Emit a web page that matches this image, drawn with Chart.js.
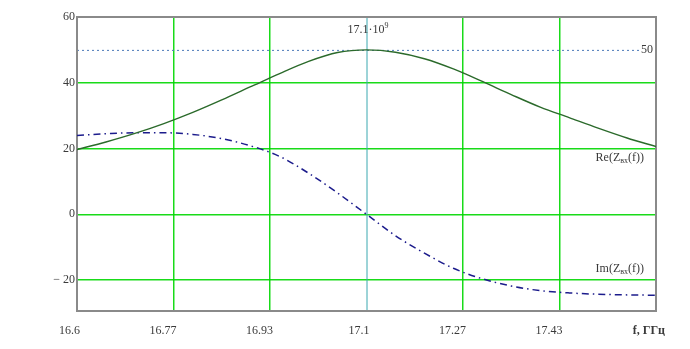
<!DOCTYPE html>
<html>
<head>
<meta charset="utf-8">
<script src="https://cdn.jsdelivr.net/npm/chart.js@4.4.0/dist/chart.umd.min.js"></script>
<style>
  html, body { margin: 0; padding: 0; background: #fff; }
  #wrap { width: 690px; height: 349px; }
</style>
</head>
<body>
<div id="wrap"><canvas id="zChart"></canvas></div>
<script>
// frequency, GHz
const freq = [16.60, 16.65, 16.70, 16.75, 16.80, 16.85, 16.90, 16.95, 17.00, 17.05, 17.10,
              17.15, 17.20, 17.25, 17.30, 17.35, 17.40, 17.45, 17.50, 17.55, 17.60];
// Re(Zвх(f))
const reZ = [19.7, 22.0, 24.6, 27.6, 31.0, 34.8, 38.8, 42.8, 46.5, 49.2, 50.0,
             49.3, 47.3, 44.2, 40.4, 36.4, 32.6, 29.4, 26.2, 23.2, 20.6];
// Im(Zвх(f))
const imZ = [24.0, 24.5, 24.8, 24.8, 24.3, 23.0, 20.8, 17.6, 12.5, 6.5, 0.0,
             -6.5, -11.8, -16.4, -19.6, -21.8, -23.2, -23.9, -24.3, -24.5, -24.6];

const xTicks = [16.6, 16.7667, 16.9333, 17.1, 17.2667, 17.4333];
const xTickLabels = ['16.6', '16.77', '16.93', '17.1', '17.27', '17.43'];
const yTicks = [60, 40, 20, 0, -20];
const yTickLabels = ['60', '40', '20', '0', '\u2212 20'];

const markerF = 17.1;   // vertical marker
const markerZ = 50;     // horizontal marker

const serif = '"Liberation Serif", "Times New Roman", serif';
const gridGreen = 'rgba(0, 215, 0, 0.9)';
const textGray = '#3a3a3a';

function pts(xs, ys) {
  return xs.map((x, i) => ({ x: x, y: ys[i] }));
}

// draws text with a small lowered subscript piece, right aligned at x
function subText(ctx, parts, xRight, y) {
  ctx.save();
  let w = 0;
  parts.forEach(p => {
    ctx.font = (p.sub ? '8px ' : '12px ') + serif;
    w += ctx.measureText(p.t).width;
  });
  let x = xRight - w;
  ctx.textAlign = 'left';
  ctx.textBaseline = 'middle';
  ctx.fillStyle = textGray;
  parts.forEach(p => {
    ctx.font = (p.sub ? '8px ' : '12px ') + serif;
    ctx.fillText(p.t, x, p.sub ? y + 3 : y);
    x += ctx.measureText(p.t).width;
  });
  ctx.restore();
}

const framePlugin = {
  id: 'frame',
  beforeDatasetsDraw(chart) {
    const { ctx, chartArea: a, scales } = chart;
    ctx.save();
    // markers
    const mx = scales.x.getPixelForValue(markerF);
    const my = scales.y.getPixelForValue(markerZ);
    ctx.lineWidth = 1;
    ctx.strokeStyle = '#3aa8b0';
    ctx.beginPath();
    ctx.moveTo(mx + 0.5, a.top);
    ctx.lineTo(mx + 0.5, a.bottom);
    ctx.stroke();
    ctx.strokeStyle = '#4a78b8';
    ctx.setLineDash([2, 3]);
    ctx.beginPath();
    ctx.moveTo(a.left, my + 0.5);
    ctx.lineTo(a.right - 16, my + 0.5);
    ctx.stroke();
    ctx.setLineDash([]);
    // frame
    ctx.strokeStyle = '#8a8a8a';
    ctx.lineWidth = 2;
    ctx.strokeRect(a.left, a.top, a.right - a.left, a.bottom - a.top);
    ctx.restore();
  },
  afterDraw(chart) {
    const { ctx, chartArea: a, scales } = chart;
    const mx = scales.x.getPixelForValue(markerF);
    const my = scales.y.getPixelForValue(markerZ);
    ctx.save();
    ctx.fillStyle = textGray;
    ctx.textBaseline = 'middle';
    // marker labels
    ctx.font = '12px ' + serif;
    ctx.textAlign = 'right';
    ctx.fillText('50', a.right - 3, my);
    const t1 = '17.1\u00b710';
    ctx.textAlign = 'left';
    const tw = ctx.measureText('17.1').width;
    const x0 = mx - tw + 2;
    ctx.fillText(t1, x0, a.top + 13);
    const w1 = ctx.measureText(t1).width;
    ctx.font = '8px ' + serif;
    ctx.fillText('9', x0 + w1, a.top + 9);
    // axis title
    ctx.font = 'bold 12px ' + serif;
    ctx.textAlign = 'right';
    ctx.fillText('f, \u0413\u0413\u0446', 665, 331);
    ctx.restore();
    // trace labels
    subText(ctx, [{ t: 'Re(Z' }, { t: '\u0432\u0445', sub: true }, { t: '(f))' }],
      a.right - 12, scales.y.getPixelForValue(17.2));
    subText(ctx, [{ t: 'Im(Z' }, { t: '\u0432\u0445', sub: true }, { t: '(f))' }],
      a.right - 12, scales.y.getPixelForValue(-16.6));
  }
};

new Chart(document.getElementById('zChart'), {
  type: 'line',
  data: {
    datasets: [
      {
        label: 'Re(Zвх(f))',
        data: pts(freq, reZ),
        borderColor: '#2b6a2b',
        borderWidth: 1.4,
        pointRadius: 0,
        cubicInterpolationMode: 'monotone',
        fill: false
      },
      {
        label: 'Im(Zвх(f))',
        data: pts(freq, imZ),
        borderColor: '#1c1c8c',
        borderWidth: 1.5,
        borderDash: [7, 4, 1.5, 4],
        pointRadius: 0,
        cubicInterpolationMode: 'monotone',
        fill: false
      }
    ]
  },
  options: {
    responsive: true,
    maintainAspectRatio: false,
    animation: false,
    layout: { padding: { top: 17, right: 34, left: 0, bottom: 0 } },
    plugins: {
      legend: { display: false },
      tooltip: { enabled: false }
    },
    scales: {
      x: {
        type: 'linear',
        min: 16.6,
        max: 17.6,
        afterBuildTicks: s => { s.ticks = xTicks.map(v => ({ value: v })); },
        afterFit: s => { s.height = 38; },
        grid: {
          color: c => (c.tick && Math.abs(c.tick.value - markerF) < 1e-6) ? 'rgba(0,0,0,0)' : gridGreen,
          lineWidth: 1.5,
          drawTicks: false
        },
        border: { display: false },
        ticks: {
          align: 'end',
          labelOffset: 3,
          padding: 13,
          maxRotation: 0,
          autoSkip: false,
          color: textGray,
          font: { family: serif, size: 12 },
          callback: (v, i) => xTickLabels[i]
        }
      },
      y: {
        type: 'linear',
        min: -29.4,
        max: 60,
        afterBuildTicks: s => { s.ticks = yTicks.map(v => ({ value: v })); },
        afterFit: s => { s.width = 77; },
        grid: {
          color: gridGreen,
          lineWidth: 1.5,
          drawTicks: false
        },
        border: { display: false },
        ticks: {
          padding: 2,
          autoSkip: false,
          color: textGray,
          font: { family: serif, size: 12 },
          callback: (v, i) => yTickLabels[i]
        }
      }
    }
  },
  plugins: [framePlugin]
});
</script>
</body>
</html>
